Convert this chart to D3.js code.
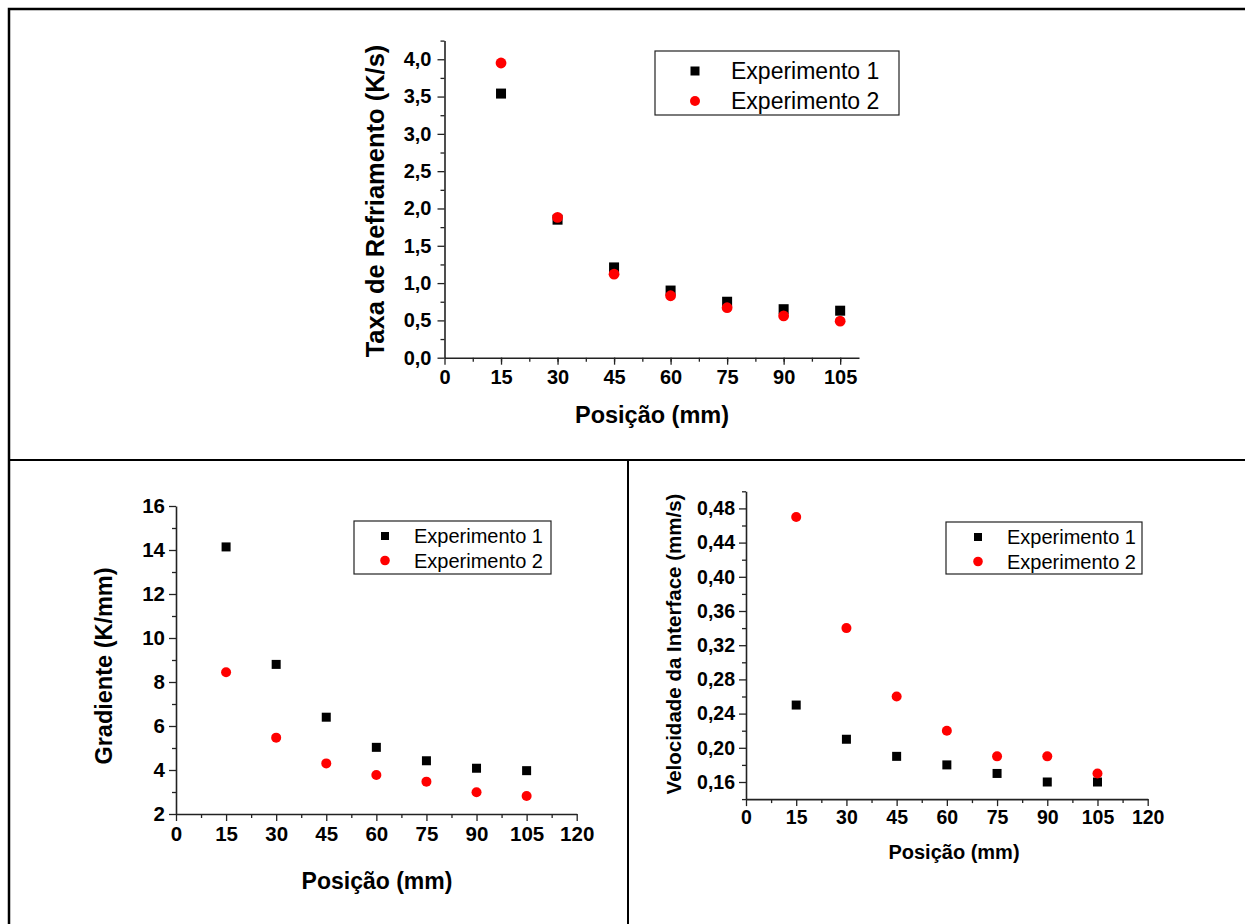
<!DOCTYPE html>
<html>
<head>
<meta charset="utf-8">
<script src="https://cdn.jsdelivr.net/npm/d3@7"></script>
<style>
  body { margin: 0; background: #fff; }
  svg { display: block; }
</style>
</head>
<body>
<svg id="fig" width="1245" height="924"></svg>
<script>
// data
const positions = [15, 30, 45, 60, 75, 90, 105];
const seriesNames = ['Experimento 1', 'Experimento 2'];

const taxaExp1 = [3.54, 1.85, 1.21, 0.90, 0.75, 0.65, 0.63];
const taxaExp2 = [3.95, 1.88, 1.12, 0.83, 0.67, 0.56, 0.49];

const gradExp1 = [14.14, 8.80, 6.40, 5.03, 4.42, 4.08, 3.97];
const gradExp2 = [8.44, 5.47, 4.30, 3.77, 3.47, 2.99, 2.82];

const velExp1 = [0.25, 0.21, 0.19, 0.18, 0.17, 0.16, 0.16];
const velExp2 = [0.47, 0.34, 0.26, 0.22, 0.19, 0.19, 0.17];

const xTicksTop = [0, 15, 30, 45, 60, 75, 90, 105];
const xTicksBottom = [0, 15, 30, 45, 60, 75, 90, 105, 120];
const taxaTicks = [0, 0.5, 1.0, 1.5, 2.0, 2.5, 3.0, 3.5, 4.0];
const gradTicks = [2, 4, 6, 8, 10, 12, 14, 16];
const velTicks = [0.16, 0.20, 0.24, 0.28, 0.32, 0.36, 0.40, 0.44, 0.48];

const FONT = "'Liberation Sans', Arial, Helvetica, sans-serif";
const svg = d3.select('#fig');

// frame lines
svg.append('path')
  .attr('d', 'M9,1250 V9 H1250')
  .attr('fill', 'none').attr('stroke', '#000').attr('stroke-width', 2.5);
svg.append('line')
  .attr('x1', 9).attr('x2', 1250).attr('y1', 460).attr('y2', 460)
  .attr('stroke', '#000').attr('stroke-width', 2);
svg.append('line')
  .attr('x1', 628).attr('x2', 628).attr('y1', 460).attr('y2', 930)
  .attr('stroke', '#000').attr('stroke-width', 2);

function comma(fmt) {
  const f = d3.format(fmt);
  return d => f(d).replace('.', ',');
}

function minorValues(step, lo, hi) {
  const out = [];
  for (let v = lo; v <= hi + 1e-9; v += step) out.push(+v.toFixed(6));
  return out;
}

function drawPanel(p) {
  const g = svg.append('g');
  const x = d3.scaleLinear().domain(p.xDomain).range(p.xRange);
  const y = d3.scaleLinear().domain(p.yDomain).range(p.yRange);

  // minor ticks
  g.append('g')
    .attr('transform', 'translate(0,' + p.yRange[0] + ')')
    .call(d3.axisBottom(x).tickValues(p.xMinor).tickSize(4).tickFormat(''))
    .call(a => a.select('.domain').remove())
    .selectAll('line').attr('stroke', '#222').attr('stroke-width', 1.3);
  g.append('g')
    .attr('transform', 'translate(' + p.xRange[0] + ',0)')
    .call(d3.axisLeft(y).tickValues(p.yMinor).tickSize(4).tickFormat(''))
    .call(a => a.select('.domain').remove())
    .selectAll('line').attr('stroke', '#222').attr('stroke-width', 1.3);

  // major axes
  const xa = g.append('g')
    .attr('transform', 'translate(0,' + p.yRange[0] + ')')
    .call(d3.axisBottom(x).tickValues(p.xTicks).tickSize(7).tickSizeOuter(0).tickPadding(p.xPad).tickFormat(d3.format('d')));
  const ya = g.append('g')
    .attr('transform', 'translate(' + p.xRange[0] + ',0)')
    .call(d3.axisLeft(y).tickValues(p.yTicks).tickSize(7).tickSizeOuter(0).tickPadding(p.yPad).tickFormat(p.yFormat));
  [xa, ya].forEach(a => {
    a.attr('font-family', FONT).attr('font-size', p.tickFont).attr('font-weight', 'bold');
    a.select('.domain').attr('stroke', '#222').attr('stroke-width', 1.6);
    a.selectAll('.tick line').attr('stroke', '#222').attr('stroke-width', 1.3);
    a.selectAll('.tick text').attr('fill', '#000');
  });

  // titles
  g.append('text')
    .attr('x', p.xTitle[0]).attr('y', p.xTitle[1])
    .attr('text-anchor', 'middle')
    .attr('font-family', FONT).attr('font-weight', 'bold').attr('font-size', p.xTitle[2])
    .text('Posição (mm)');
  g.append('text')
    .attr('transform', 'translate(' + p.yTitle[0] + ',' + p.yTitle[1] + ') rotate(-90)')
    .attr('text-anchor', 'middle')
    .attr('font-family', FONT).attr('font-weight', 'bold').attr('font-size', p.yTitle[2])
    .text(p.yLabel);

  // points
  const s1 = positions.map((px, i) => ({ x: px, y: p.s1[i] }));
  const s2 = positions.map((px, i) => ({ x: px, y: p.s2[i] }));
  const sq = p.square;
  g.selectAll('rect.s1').data(s1).enter().append('rect')
    .attr('class', 's1')
    .attr('x', d => x(d.x) - sq / 2).attr('y', d => y(d.y) - sq / 2)
    .attr('width', sq).attr('height', sq).attr('fill', '#000');
  g.selectAll('circle.s2').data(s2).enter().append('circle')
    .attr('class', 's2')
    .attr('cx', d => x(d.x)).attr('cy', d => y(d.y))
    .attr('r', p.radius).attr('fill', '#ff0000');

  // legend
  const L = p.legend;
  const lg = g.append('g');
  lg.append('rect')
    .attr('x', L.x).attr('y', L.y).attr('width', L.w).attr('height', L.h)
    .attr('fill', '#fff').attr('stroke', '#222').attr('stroke-width', 1.2);
  seriesNames.forEach((name, i) => {
    const cy = L.row0 + i * L.gap;
    if (i === 0) {
      lg.append('rect')
        .attr('x', L.mx - L.sq / 2).attr('y', cy - L.sq / 2)
        .attr('width', L.sq).attr('height', L.sq).attr('fill', '#000');
    } else {
      lg.append('circle')
        .attr('cx', L.mx).attr('cy', cy).attr('r', L.r).attr('fill', '#ff0000');
    }
    lg.append('text')
      .attr('x', L.tx).attr('y', cy).attr('dy', '0.36em')
      .attr('font-family', FONT).attr('font-size', L.font)
      .text(name);
  });
}

drawPanel({
  xDomain: [0, 110], xRange: [444.5, 859],
  yDomain: [0, 4.25], yRange: [357.7, 40.6],
  xTicks: xTicksTop, xMinor: minorValues(7.5, 7.5, 105),
  yTicks: taxaTicks, yMinor: minorValues(0.5, 0.25, 4.25),
  yFormat: comma('.1f'), tickFont: 20, xPad: 5, yPad: 6,
  xTitle: [652, 423, 23.5], yTitle: [384, 201, 25.5],
  yLabel: 'Taxa de Refriamento (K/s)',
  s1: taxaExp1, s2: taxaExp2, square: 10, radius: 5.4,
  legend: { x: 655, y: 51, w: 244, h: 64, mx: 695, row0: 71, gap: 30, sq: 9, r: 5, tx: 731, font: 23 }
});

drawPanel({
  xDomain: [0, 120], xRange: [176, 576.7],
  yDomain: [2, 16], yRange: [814, 506],
  xTicks: xTicksBottom, xMinor: minorValues(15, 7.5, 112.5),
  yTicks: gradTicks, yMinor: minorValues(2, 3, 15),
  yFormat: d3.format('d'), tickFont: 20.5, xPad: 5, yPad: 4,
  xTitle: [377, 889, 23], yTitle: [112, 666, 23.5],
  yLabel: 'Gradiente (K/mm)',
  s1: gradExp1, s2: gradExp2, square: 9, radius: 5,
  legend: { x: 354, y: 521, w: 197, h: 53, mx: 385, row0: 536, gap: 24.5, sq: 8, r: 4.8, tx: 414, font: 20 }
});

drawPanel({
  xDomain: [0, 120], xRange: [746, 1147.7],
  yDomain: [0.14, 0.50], yRange: [799.1, 491.3],
  xTicks: xTicksBottom, xMinor: minorValues(15, 7.5, 112.5),
  yTicks: velTicks, yMinor: minorValues(0.04, 0.14, 0.50),
  yFormat: comma('.2f'), tickFont: 19.5, xPad: 4, yPad: 4,
  xTitle: [954, 859, 20], yTitle: [681, 644, 20.5],
  yLabel: 'Velocidade da Interface (mm/s)',
  s1: velExp1, s2: velExp2, square: 9, radius: 5,
  legend: { x: 946, y: 522, w: 196, h: 52, mx: 978, row0: 537, gap: 24.5, sq: 8, r: 4.8, tx: 1007, font: 20 }
});
</script>
</body>
</html>
